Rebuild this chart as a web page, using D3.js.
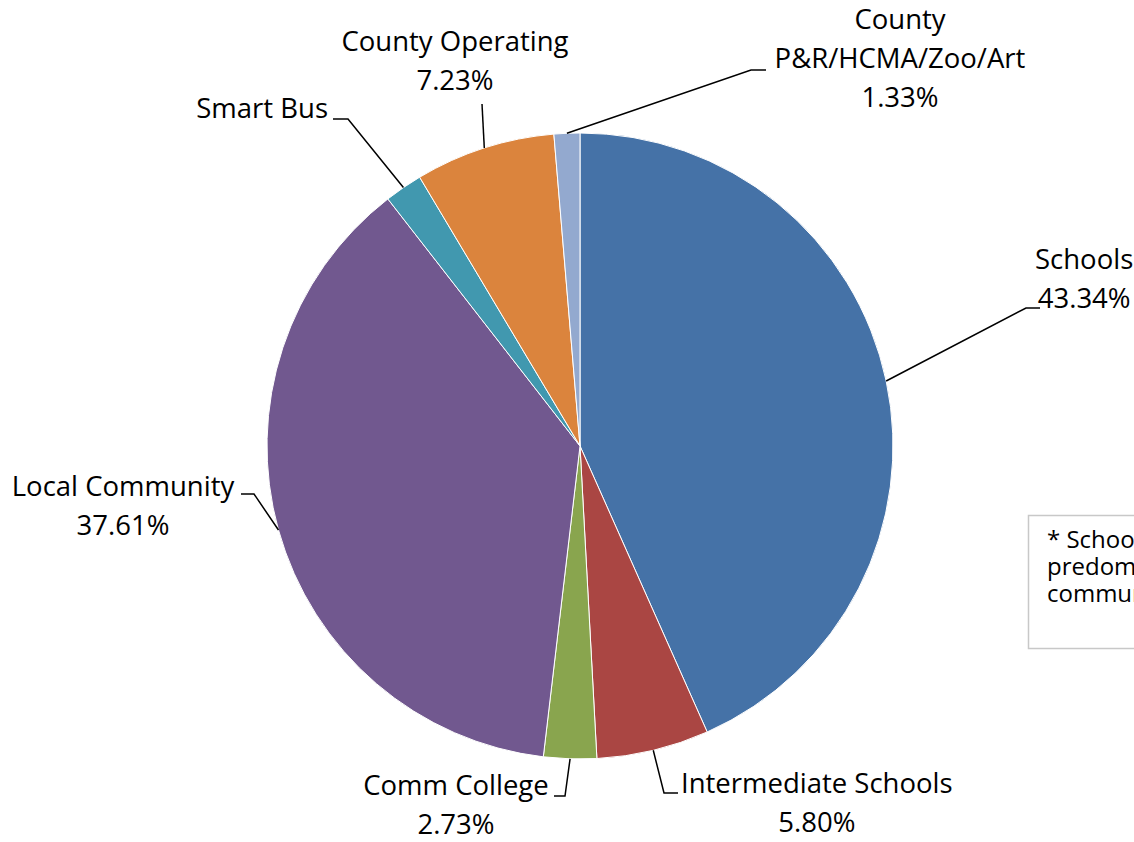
<!DOCTYPE html>
<html>
<head>
<meta charset="utf-8">
<script src="https://cdn.jsdelivr.net/npm/d3@7"></script>
<style>
  body { margin: 0; background: #fff; overflow: hidden; }
  svg { display: block; }
  text { font-family: "Open Sans", Lato, sans-serif; font-size: 27.5px; fill: #000; }
</style>
</head>
<body>
<svg id="chart" width="1134" height="842"></svg>
<script>
// Data
var categories = [ 'Schools', 'Intermediate Schools', 'Comm College', 'Local Community', 'Smart Bus', 'County Operating', 'County P&R/HCMA/Zoo/Art' ];
var shares = [ 43.34, 5.80, 2.73, 37.61, 1.96, 7.23, 1.33 ];
var labelLines = [
	[ 'Schools', '43.34%' ],
	[ 'Intermediate Schools', '5.80%' ],
	[ 'Comm College', '2.73%' ],
	[ 'Local Community', '37.61%' ],
	[ 'Smart Bus' ],
	[ 'County Operating', '7.23%' ],
	[ 'County', 'P&R/HCMA/Zoo/Art', '1.33%' ]
];
var colors = [ '#4572A7', '#AA4643', '#89A54E', '#71588F', '#4198AF', '#DB843D', '#93A9CF' ];
var noteLines = [ '* Schools taxes are', 'predominantly for', 'community use' ];

// Layout: label anchor, text alignment and leader elbow per slice
var layout = [
	{ x: 1035, y: 259, anchor: 'start', elbow: [ 1026, 308 ], end: [ 1040, 308 ], align: 'center' },
	{ x: 681, y: 783, anchor: 'start', elbow: [ 664, 793 ], end: [ 678, 793 ], align: 'center' },
	{ x: 456, y: 785, anchor: 'middle', elbow: [ 565, 796 ], end: [ 554, 796 ] },
	{ x: 123, y: 486, anchor: 'middle', elbow: [ 254, 494 ], end: [ 241, 494 ] },
	{ x: 328, y: 108, anchor: 'end', elbow: [ 348, 119 ], end: [ 333, 119 ] },
	{ x: 455, y: 41, anchor: 'middle', elbow: [ 482, 104 ], end: [ 482, 104 ] },
	{ x: 900, y: 19, anchor: 'middle', elbow: [ 751, 70 ], end: [ 766, 70 ] }
];

var svg = d3.select( '#chart' );
var cx = 580, cy = 446, radius = 313;

var data = categories.map( function ( c, i ) {
	return { name: c, value: shares[i], color: colors[i], lines: labelLines[i], lay: layout[i] };
} );

var pie = d3.pie().sort( null ).value( function ( d ) { return d.value; } );
var arc = d3.arc().innerRadius( 0 ).outerRadius( radius );
var arcs = pie( data );

var g = svg.append( 'g' ).attr( 'transform', 'translate(' + cx + ',' + cy + ')' );

g.selectAll( 'path.slice' )
	.data( arcs )
	.enter()
	.append( 'path' )
	.classed( 'slice', true )
	.attr( 'd', arc )
	.attr( 'fill', function ( d ) { return d.data.color; } )
	.attr( 'stroke', '#fff' )
	.attr( 'stroke-width', 1 );

// Leader lines from the slice middle on the rim to the label
svg.selectAll( 'path.leader' )
	.data( arcs )
	.enter()
	.append( 'path' )
	.classed( 'leader', true )
	.attr( 'fill', 'none' )
	.attr( 'stroke', '#000' )
	.attr( 'stroke-width', 1.5 )
	.attr( 'd', function ( d ) {
		var a = ( d.startAngle + d.endAngle ) / 2;
		var px = cx + radius * Math.sin( a );
		var py = cy - radius * Math.cos( a );
		var l = d.data.lay;
		return 'M' + px + ',' + py + 'L' + l.elbow[0] + ',' + l.elbow[1] + 'L' + l.end[0] + ',' + l.end[1];
	} );

// Labels
var lineHeight = 39;
data.forEach( function ( d ) {
	var l = d.lay;
	var t = svg.append( 'text' )
		.attr( 'text-anchor', l.anchor )
		.attr( 'x', l.x )
		.attr( 'y', l.y );
	d.lines.forEach( function ( line, j ) {
		t.append( 'tspan' )
			.attr( 'x', l.x )
			.attr( 'y', l.y + j * lineHeight )
			.attr( 'dy', '0.35em' )
			.text( line );
	} );
	// Center the percentage under the first line for left-anchored multi-line labels
	if ( l.align === 'center' && d.lines.length > 1 ) {
		var first = t.select( 'tspan' ).node().getComputedTextLength();
		t.selectAll( 'tspan' ).filter( function ( _, j ) { return j > 0; } )
			.attr( 'text-anchor', 'middle' )
			.attr( 'x', l.x + first / 2 );
	}
} );

// Note box (partly outside the frame)
svg.append( 'rect' )
	.attr( 'x', 1028.5 )
	.attr( 'y', 515.5 )
	.attr( 'width', 200 )
	.attr( 'height', 133 )
	.attr( 'fill', '#fff' )
	.attr( 'stroke', '#c8c8c8' )
	.attr( 'stroke-width', 1.5 );

svg.append( 'g' ).selectAll( 'text' )
	.data( noteLines )
	.enter()
	.append( 'text' )
	.attr( 'x', 1047 )
	.attr( 'y', function ( d, i ) { return 540 + i * 27; } )
	.attr( 'dy', '0.35em' )
	.style( 'font-size', '24px' )
	.text( function ( d ) { return d; } );
</script>
</body>
</html>
